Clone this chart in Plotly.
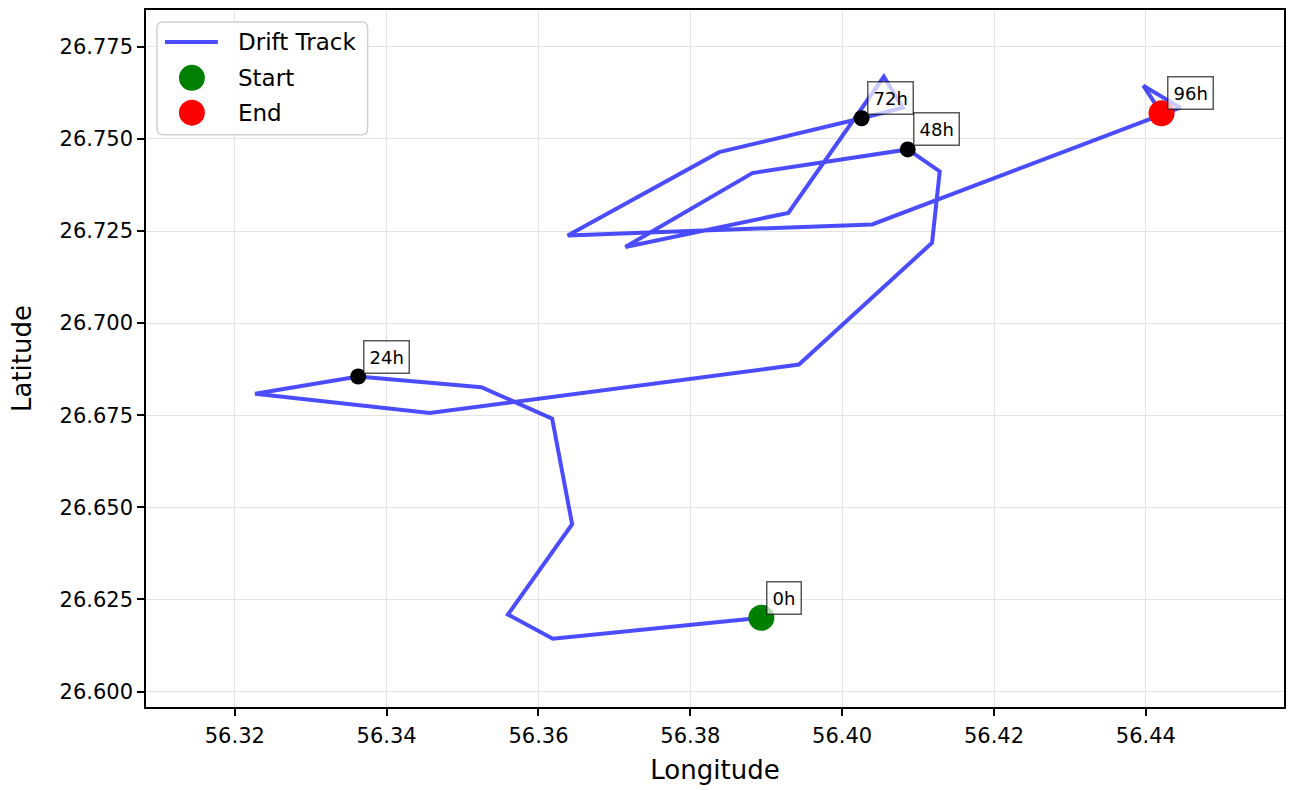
import plotly.graph_objects as go

# Drift track positions, one fix every 4 hours (0h .. 96h)
lon = [56.38936, 56.36188, 56.35597, 56.36443, 56.36180, 56.35247,
       56.33625, 56.32267, 56.34567, 56.39431, 56.41184, 56.41285,
       56.40864, 56.38817, 56.37144, 56.39291, 56.40549, 56.40798,
       56.40256, 56.38380, 56.36385, 56.40395, 56.44453, 56.43967,
       56.44207]
lat = [26.62001, 26.61433, 26.62090, 26.64542, 26.67407, 26.68262,
       26.68551, 26.68083, 26.67559, 26.68875, 26.72182, 26.74120,
       26.74715, 26.74074, 26.72066, 26.72993, 26.76688, 26.75850,
       26.75561, 26.74642, 26.72382, 26.72679, 26.75850, 26.76445,
       26.75696]
step_hours = 4
label_hours = [0, 24, 48, 72, 96]

x_ticks = [56.32, 56.34, 56.36, 56.38, 56.40, 56.42, 56.44]
y_ticks = [26.600, 26.625, 26.650, 26.675, 26.700, 26.725, 26.750, 26.775]

FONT = "DejaVu Sans"
TRACK_COLOR = "rgba(0,0,255,0.7)"

W, H = 1294, 790
ML, MR, MT, MB = 146, 8, 8, 83
PW, PH = W - ML - MR, H - MT - MB


def px(x):
    """pixel column -> paper x"""
    return (x - ML) / PW


def py(y):
    """pixel row -> paper y"""
    return 1 - (y - MT) / PH


fig = go.Figure()

fig.add_trace(go.Scatter(
    x=lon, y=lat, mode="lines", name="Drift Track",
    line=dict(color=TRACK_COLOR, width=4),
))

# black time markers every 24 h (between start and end)
mid_idx = [h // step_hours for h in label_hours[1:-1]]
fig.add_trace(go.Scatter(
    x=[lon[i] for i in mid_idx], y=[lat[i] for i in mid_idx],
    mode="markers", showlegend=False, hoverinfo="skip",
    marker=dict(color="black", size=16),
))

fig.add_trace(go.Scatter(
    x=[lon[0]], y=[lat[0]], mode="markers", name="Start",
    marker=dict(color="green", size=26),
))
fig.add_trace(go.Scatter(
    x=[lon[-1]], y=[lat[-1]], mode="markers", name="End",
    marker=dict(color="red", size=26),
))

for h in label_hours:
    i = h // step_hours
    fig.add_annotation(
        x=lon[i], y=lat[i], text=f"{h}h", showarrow=False,
        xanchor="left", yanchor="bottom", xshift=5, yshift=3,
        bgcolor="rgba(255,255,255,0.7)", bordercolor="rgba(0,0,0,0.65)",
        borderwidth=1.5, borderpad=5,
        font=dict(family=FONT, size=18, color="black"),
    )

# legend panel (drawn by hand so the marker swatches keep their size)
x0, y0, x1, y1, r = 157, 20, 368, 133, 6
path = (f"M {px(x0 + r)} {py(y0)} L {px(x1 - r)} {py(y0)} "
        f"Q {px(x1)} {py(y0)} {px(x1)} {py(y0 + r)} "
        f"L {px(x1)} {py(y1 - r)} Q {px(x1)} {py(y1)} {px(x1 - r)} {py(y1)} "
        f"L {px(x0 + r)} {py(y1)} Q {px(x0)} {py(y1)} {px(x0)} {py(y1 - r)} "
        f"L {px(x0)} {py(y0 + r)} Q {px(x0)} {py(y0)} {px(x0 + r)} {py(y0)} Z")
fig.add_shape(type="path", path=path, xref="paper", yref="paper",
              fillcolor="rgba(255,255,255,0.8)",
              line=dict(color="#d0d0d0", width=1.5), layer="above")

legend_rows = [("Drift Track", 40), ("Start", 76), ("End", 111)]
fig.add_shape(type="line", xref="paper", yref="paper",
              x0=px(165), x1=px(218), y0=py(40), y1=py(40),
              line=dict(color=TRACK_COLOR, width=4), layer="above")
for color, row in (("green", 76), ("red", 111)):
    fig.add_shape(type="circle", xref="paper", yref="paper",
                  x0=px(192 - 13), x1=px(192 + 13),
                  y0=py(row + 13), y1=py(row - 13),
                  fillcolor=color, line=dict(width=0), layer="above")
for text, row in legend_rows:
    fig.add_annotation(
        x=px(236), y=py(row), xref="paper", yref="paper", text=text,
        showarrow=False, xanchor="left", yanchor="middle",
        font=dict(family=FONT, size=23, color="black"),
    )

axis_common = dict(
    showline=True, linecolor="black", linewidth=1.5, mirror=True,
    ticks="outside", ticklen=7, tickwidth=1.5, tickcolor="black",
    showgrid=True, gridcolor="#e3e3e3", gridwidth=1.2,
    zeroline=False,
    tickfont=dict(family=FONT, size=21, color="black"),
)

fig.update_layout(
    width=W, height=H,
    margin=dict(l=ML, r=MR, t=MT, b=MB),
    paper_bgcolor="white", plot_bgcolor="white",
    font=dict(family=FONT, color="black"),
    xaxis=dict(range=[56.3083, 56.4582], tickvals=x_ticks,
               ticktext=[f"{v:.2f}" for v in x_ticks],
               ticklabelstandoff=2,
               title=dict(text="Longitude", standoff=14,
                          font=dict(family=FONT, size=26)),
               **axis_common),
    yaxis=dict(range=[26.5958, 26.7850], tickvals=y_ticks,
               ticktext=[f"{v:.3f}" for v in y_ticks],
               title=dict(text="Latitude", standoff=20,
                          font=dict(family=FONT, size=26)),
               **axis_common),
    showlegend=False,
)

fig.write_html("out.html")
